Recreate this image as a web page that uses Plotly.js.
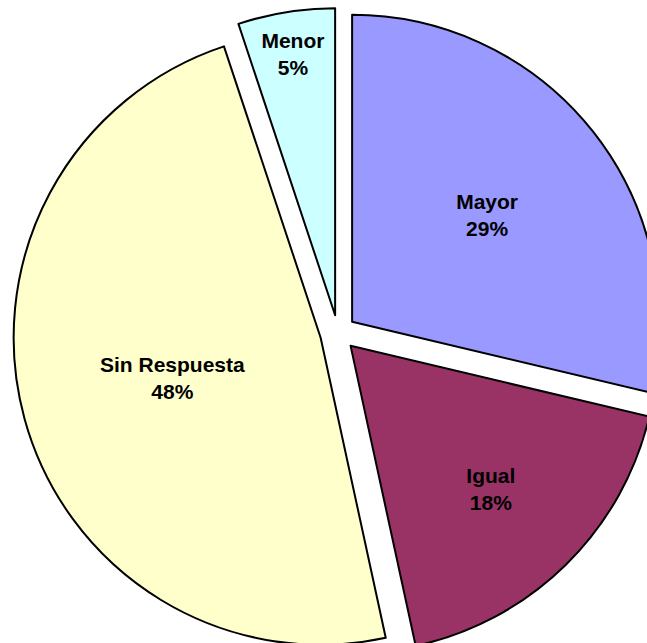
<!DOCTYPE html>
<html>
<head>
<meta charset="utf-8">
<script src="https://cdn.plot.ly/plotly-3.0.1.min.js"></script>
<style>
html, body { margin: 0; padding: 0; overflow: hidden; background: #ffffff; width: 647px; height: 643px; }
#chart { width: 663px; height: 658px; }
</style>
</head>
<body>
<div id="chart"></div>
<script>
var categories = ["Mayor", "Igual", "Sin Respuesta", "Menor"];
var values = [28.7, 17.9, 48.3, 5.1];
var colors = ["#9999FF", "#993366", "#FFFFCC", "#CCFFFF"];

var trace = {
  type: "pie",
  labels: categories,
  values: values,
  sort: false,
  direction: "clockwise",
  rotation: 0,
  pull: [0.0586, 0.0586, 0.0586, 0.0586],
  marker: { colors: colors, line: { color: "#000000", width: 2 } },
  texttemplate: "%{label}<br>%{percent:.0%}",
  textposition: "inside",
  insidetextorientation: "horizontal",
  textfont: { family: "Liberation Sans, Arial, sans-serif", size: 21, weight: "bold", color: "#000000" },
  hoverinfo: "none",
  showlegend: false
};

var layout = {
  width: 663,
  height: 658,
  margin: { l: 12.6, r: 0, t: 7.9, b: 0, pad: 0 },
  paper_bgcolor: "#ffffff",
  plot_bgcolor: "#ffffff",
  showlegend: false
};

Plotly.newPlot("chart", [trace], layout, { staticPlot: true, displayModeBar: false });
</script>
</body>
</html>
